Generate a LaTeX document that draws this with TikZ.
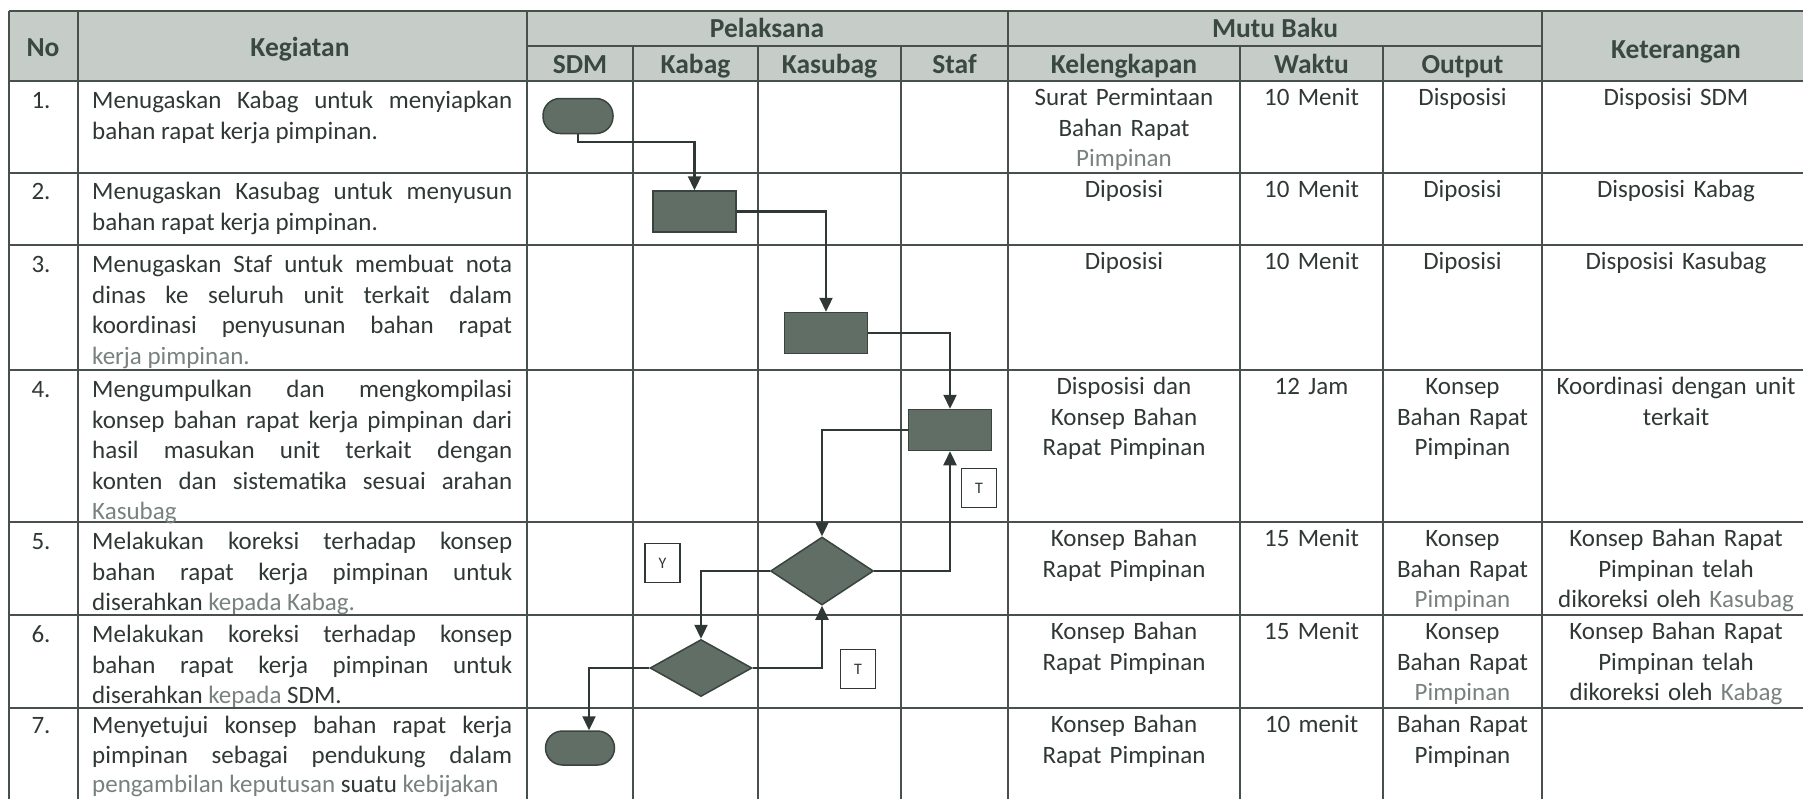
\documentclass[tikz,border=0pt]{standalone}
\usepackage{fontspec}
\setmainfont{Carlito}
\usetikzlibrary{arrows.meta,shapes.geometric}
\definecolor{ink}{RGB}{47,56,52}
\definecolor{fade}{RGB}{120,130,125}
\definecolor{gridc}{RGB}{72,80,76}
\definecolor{hdr}{RGB}{198,205,201}
\definecolor{shp}{RGB}{96,110,102}
\definecolor{shpb}{RGB}{58,68,63}
\definecolor{hdrtxt}{RGB}{58,72,66}
\newcommand{\bodyfont}{\fontsize{25}{30.5}\selectfont}
\newcommand{\hdfont}{\fontsize{27.5}{32}\selectfont\bfseries}
\newcommand{\lblfont}{\fontsize{16}{18}\selectfont}
\newcommand{\fd}[1]{\textcolor{fade}{#1}}
\tikzset{
  kg/.style={anchor=base west, inner sep=0pt, text width=420pt, align=justify, font=\bodyfont, text=ink, yshift=-2.5pt},
  cc/.style={anchor=base, inner sep=0pt, text width=250pt, align=center, font=\bodyfont, text=ink, yshift=-2.5pt},
  hd/.style={anchor=base, inner sep=0pt, font=\hdfont, text=hdrtxt},
  gl/.style={draw=gridc, line width=2pt},
  proc/.style={draw=shpb, fill=shp, line width=1.5pt, minimum width=83pt, minimum height=41pt, inner sep=0pt},
  term/.style={draw=shpb, fill=shp, line width=1.5pt, rounded corners=17pt, minimum width=70pt, minimum height=35pt, inner sep=0pt},
  dec/.style={diamond, draw=shpb, fill=shp, line width=1.5pt, inner sep=0pt, shape aspect=1.5},
  lbl/.style={draw=ink, fill=white, line width=1.8pt, minimum width=35pt, minimum height=39pt, inner sep=0pt, font=\lblfont, text=ink},
  conn/.style={draw=ink, line width=2.3pt, -{Triangle[length=14pt,width=13pt]}}
}
\begin{document}
\begin{tikzpicture}[x=1pt,y=-1pt]
\useasboundingbox (0,0) rectangle (1803,798);
\begin{scope}
\clip (0,0) rectangle (1803,798);
\fill[hdr] (9,11) rectangle (1815,81);
% horizontal lines
\foreach \yy in {11,81,173,245,370,522,615,708} {\draw[gl] (9,\yy) -- (1815,\yy);}
\draw[gl] (527,46) -- (1542,46);
% vertical lines
\foreach \xx in {9,78,527,1008,1542} {\draw[gl] (\xx,11) -- (\xx,810);}
\foreach \xx in {633,758,901,1240,1383} {\draw[gl] (\xx,46) -- (\xx,810);}
\end{scope}

% header
\node[hd] (hNo) at (43,56) {No};
\node[hd] (hKeg) at (300,56) {Kegiatan};
\node[hd] (hPel) at (767,37) {Pelaksana};
\node[hd] (hSDM) at (580,73) {SDM};
\node[hd] (hKabag) at (695.5,73) {Kabag};
\node[hd] (hKasubag) at (829.5,73) {Kasubag};
\node[hd] (hStaf) at (954.5,73) {Staf};
\node[hd] (hMutu) at (1275,37) {Mutu Baku};
\node[hd] (hKel) at (1124,73) {Kelengkapan};
\node[hd] (hWak) at (1311.5,73) {Waktu};
\node[hd] (hOut) at (1462.5,73) {Output};
\node[hd] (hKet) at (1676,58) {Keterangan};

% numbers
\node[cc] (n1) at (41,106) {1.};
\node[cc] (n2) at (41,197) {2.};
\node[cc] (n3) at (41,270) {3.};
\node[cc] (n4) at (41,395) {4.};
\node[cc] (n5) at (41,547) {5.};
\node[cc] (n6) at (41,640) {6.};
\node[cc] (n7) at (41,731) {7.};

% kegiatan
\node[kg] (k1) at (92,106) {Menugaskan Kabag untuk menyiapkan\linebreak bahan rapat kerja pimpinan.};
\node[kg] (k2) at (92,197) {Menugaskan Kasubag untuk menyusun\linebreak bahan rapat kerja pimpinan.};
\node[kg] (k3) at (92,270) {Menugaskan Staf untuk membuat nota\linebreak dinas ke seluruh unit terkait dalam\linebreak koordinasi penyusunan bahan rapat\linebreak \fd{kerja pimpinan.}};
\node[kg] (k4) at (92,395) {Mengumpulkan dan mengkompilasi\linebreak konsep bahan rapat kerja pimpinan dari\linebreak hasil masukan unit terkait dengan\linebreak konten dan sistematika sesuai arahan\linebreak \fd{Kasubag}};
\node[kg] (k5) at (92,547) {Melakukan koreksi terhadap konsep\linebreak bahan rapat kerja pimpinan untuk\linebreak diserahkan \fd{kepada Kabag.}};
\node[kg] (k6) at (92,640) {Melakukan koreksi terhadap konsep\linebreak bahan rapat kerja pimpinan untuk\linebreak diserahkan \fd{kepada} SDM.};
\node[kg, font=\fontsize{25}{29.5}\selectfont] (k7) at (92,731) {Menyetujui konsep bahan rapat kerja\linebreak pimpinan sebagai pendukung dalam\linebreak \fd{pengambilan keputusan} suatu \fd{kebijakan}};

% kelengkapan
\node[cc] (l1) at (1124,103) {Surat Permintaan\\Bahan Rapat\\\fd{Pimpinan}};
\node[cc] (l2) at (1124,195) {Diposisi};
\node[cc] (l3) at (1124,267) {Diposisi};
\node[cc] (l4) at (1124,392) {Disposisi dan\\Konsep Bahan\\Rapat Pimpinan};
\node[cc] (l5) at (1124,544) {Konsep Bahan\\Rapat Pimpinan};
\node[cc] (l6) at (1124,637) {Konsep Bahan\\Rapat Pimpinan};
\node[cc] (l7) at (1124,730) {Konsep Bahan\\Rapat Pimpinan};

% waktu
\node[cc] (w1) at (1311.5,103) {10 Menit};
\node[cc] (w2) at (1311.5,195) {10 Menit};
\node[cc] (w3) at (1311.5,267) {10 Menit};
\node[cc] (w4) at (1311.5,392) {12 Jam};
\node[cc] (w5) at (1311.5,544) {15 Menit};
\node[cc] (w6) at (1311.5,637) {15 Menit};
\node[cc] (w7) at (1311.5,730) {10 menit};

% output
\node[cc] (o1) at (1462.5,103) {Disposisi};
\node[cc] (o2) at (1462.5,195) {Diposisi};
\node[cc] (o3) at (1462.5,267) {Diposisi};
\node[cc] (o4) at (1462.5,392) {Konsep\\Bahan Rapat\\Pimpinan};
\node[cc] (o5) at (1462.5,544) {Konsep\\Bahan Rapat\\\fd{Pimpinan}};
\node[cc] (o6) at (1462.5,637) {Konsep\\Bahan Rapat\\\fd{Pimpinan}};
\node[cc] (o7) at (1462.5,730) {Bahan Rapat\\Pimpinan};

% keterangan
\node[cc] (t1) at (1676,103) {Disposisi SDM};
\node[cc] (t2) at (1676,195) {Disposisi Kabag};
\node[cc] (t3) at (1676,267) {Disposisi Kasubag};
\node[cc] (t4) at (1676,392) {Koordinasi dengan unit\\terkait};
\node[cc] (t5) at (1676,544) {Konsep Bahan Rapat\\Pimpinan telah\\dikoreksi oleh \fd{Kasubag}};
\node[cc] (t6) at (1676,637) {Konsep Bahan Rapat\\Pimpinan telah\\dikoreksi oleh \fd{Kabag}};

% flow shapes
\node[term] (s1) at (578,116) {};
\node[proc] (r2) at (694.5,211.5) {};
\node[proc] (r3) at (826,333) {};
\node[proc] (r4) at (950,430) {};
\node[dec, minimum width=103pt, minimum height=68pt] (d1) at (822,571) {};
\node[dec, minimum width=102pt, minimum height=57pt] (d2) at (701,668) {};
\node[term, minimum height=34pt, minimum width=69pt] (s2) at (580,748) {};

% labels
\node[lbl] (lT1) at (979,488) {T};
\node[lbl] (lY) at (662.5,563) {Y};
\node[lbl] (lT2) at (858,669) {T};

% connectors
\draw[conn] (s1.south) -- ++(0,8) -| (r2.north);
\draw[conn] (r2.east) -| (r3.north);
\draw[conn] (r3.east) -| (r4.north);
\draw[conn] (r4.west) -| (d1.north);
\draw[conn] (d1.east) -| (r4.south);
\draw[conn] (d1.west) -| (d2.north);
\draw[conn] (d2.east) -| (d1.south);
\draw[conn] (d2.west) -| ([xshift=9pt]s2.north);
\end{tikzpicture}
\end{document}
